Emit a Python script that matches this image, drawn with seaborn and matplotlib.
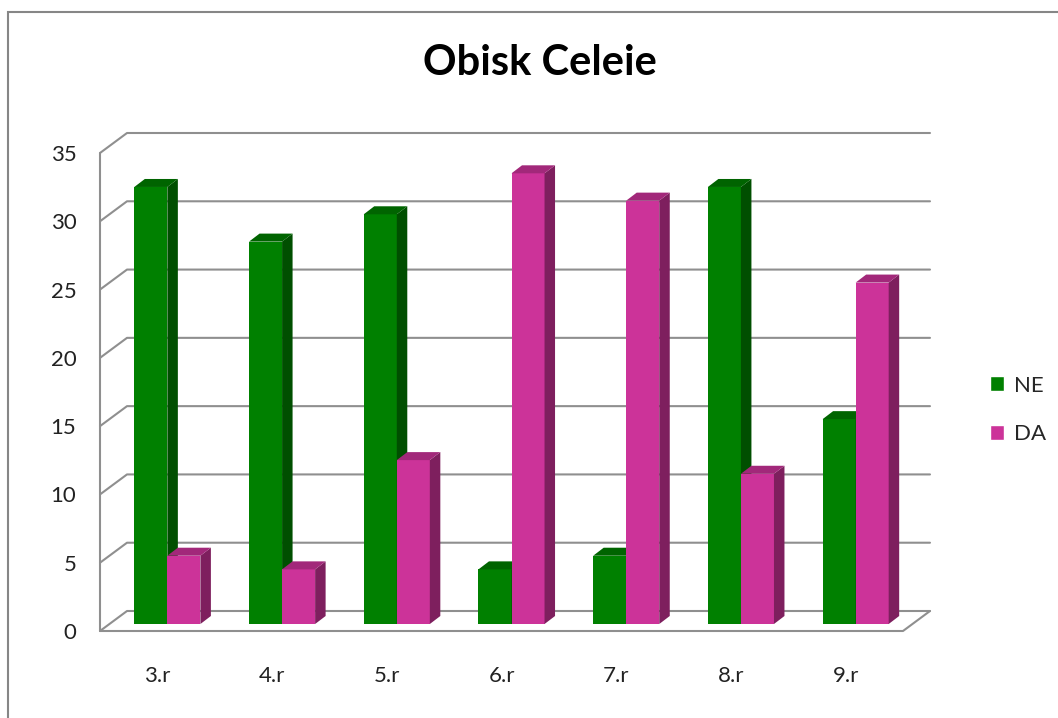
import numpy as np
import pandas as pd
import matplotlib
matplotlib.use('Agg')
import matplotlib.pyplot as plt
import seaborn as sns
from matplotlib.patches import Polygon, Rectangle

# ------------------------------------------------------------
# Data: visits per class (NE / DA answers)
# ------------------------------------------------------------
razredi = ['3.r', '4.r', '5.r', '6.r', '7.r', '8.r', '9.r']
ne = [32, 28, 30, 4, 5, 32, 15]
da = [5, 4, 12, 33, 31, 11, 25]
odgovori = ['NE', 'DA']
y_ticks = [0, 5, 10, 15, 20, 25, 30, 35]

df = pd.DataFrame({
    'razred': razredi * 2,
    'odgovor': ['NE'] * len(ne) + ['DA'] * len(da),
    'stevilo': ne + da,
})

front = {'NE': '#008000', 'DA': '#cc3399'}
side = {'NE': '#004f00', 'DA': '#7e1f5e'}
top = {'NE': '#006400', 'DA': '#a2287a'}
grid_col = '#8f8f8f'

sns.set_theme(style='white')
plt.rcParams['font.family'] = ['Lato', 'DejaVu Sans']

W, H = 1058, 718
fig = plt.figure(figsize=(W / 100, H / 100), dpi=100)
ax = fig.add_axes([100 / W, (H - 631) / H, 803 / W, 478 / H])

sns.barplot(data=df, x='razred', y='stevilo', hue='odgovor',
            hue_order=odgovori, palette=front, width=0.576,
            saturation=1, ax=ax)
ax.set_xlim(-0.5, 6.5)
ax.set_ylim(0, 35)

# pixel -> data conversions for the fake 3D depth
ppx = 803 / 7
ppy = 478 / 35
wx, wy = 27 / ppx, 20 / ppy      # wall depth
bx, by = 10 / ppx, 7 / ppy       # bars sit a bit behind the front
dx, dy = 10.5 / ppx, 8 / ppy     # bar depth

# back wall + side wall gridlines
for v in y_ticks:
    ax.plot([-0.5, -0.5 + wx, 6.5 + wx], [v, v + wy, v + wy],
            color=grid_col, lw=1.5, zorder=0.5, clip_on=False)
ax.plot([-0.5, -0.5], [0, 35], color=grid_col, lw=1.5, zorder=0.5, clip_on=False)
ax.plot([-0.5, 6.5, 6.5 + wx], [0, 0, wy], color=grid_col, lw=1.5,
        zorder=0.5, clip_on=False)

# shift bars and add side / top faces
for k, (cont, name) in enumerate(zip(ax.containers, odgovori)):
    for bar in cont:
        x0 = bar.get_x() + bx
        w = bar.get_width()
        h = bar.get_height()
        y0 = by
        bar.set_x(x0)
        bar.set_y(y0)
        bar.set_linewidth(0)
        bar.set_zorder(2 + k)
        bar.set_clip_on(False)
        x1, y1 = x0 + w, y0 + h
        ax.add_patch(Polygon([(x1, y0), (x1, y1), (x1 + dx, y1 + dy), (x1 + dx, y0 + dy)],
                             closed=True, facecolor=side[name], lw=0,
                             zorder=2.1 + k, clip_on=False))
        ax.add_patch(Polygon([(x0, y1), (x1, y1), (x1 + dx, y1 + dy), (x0 + dx, y1 + dy)],
                             closed=True, facecolor=top[name], lw=0,
                             zorder=2.1 + k, clip_on=False))

for s in ax.spines.values():
    s.set_visible(False)
ax.set_xlabel('')
ax.set_ylabel('')
ax.set_yticks(y_ticks)
ax.tick_params(axis='y', length=0, pad=17, labelsize=16, labelcolor='#222222')
ax.tick_params(axis='x', length=0, pad=25, labelsize=16, labelcolor='#222222')

handles, labels = ax.get_legend_handles_labels()
ax.legend(handles, labels, loc='center left',
          bbox_to_anchor=(990 / W, 1 - 410 / H), bbox_transform=fig.transFigure,
          frameon=False, fontsize=16, handlelength=0.65, handleheight=0.65,
          labelspacing=1.3, handletextpad=0.45, borderpad=0, borderaxespad=0)

fig.text(540 / W, 1 - 63 / H, 'Obisk Celeie', ha='center', va='center',
         fontsize=30, fontweight='bold', color='black')

fig.add_artist(Rectangle((8 / W, -0.05), 1.2, (H - 12) / H + 0.05,
                         transform=fig.transFigure, fill=False,
                         edgecolor='#868686', lw=1.5))

plt.savefig('out.png', dpi=100)
